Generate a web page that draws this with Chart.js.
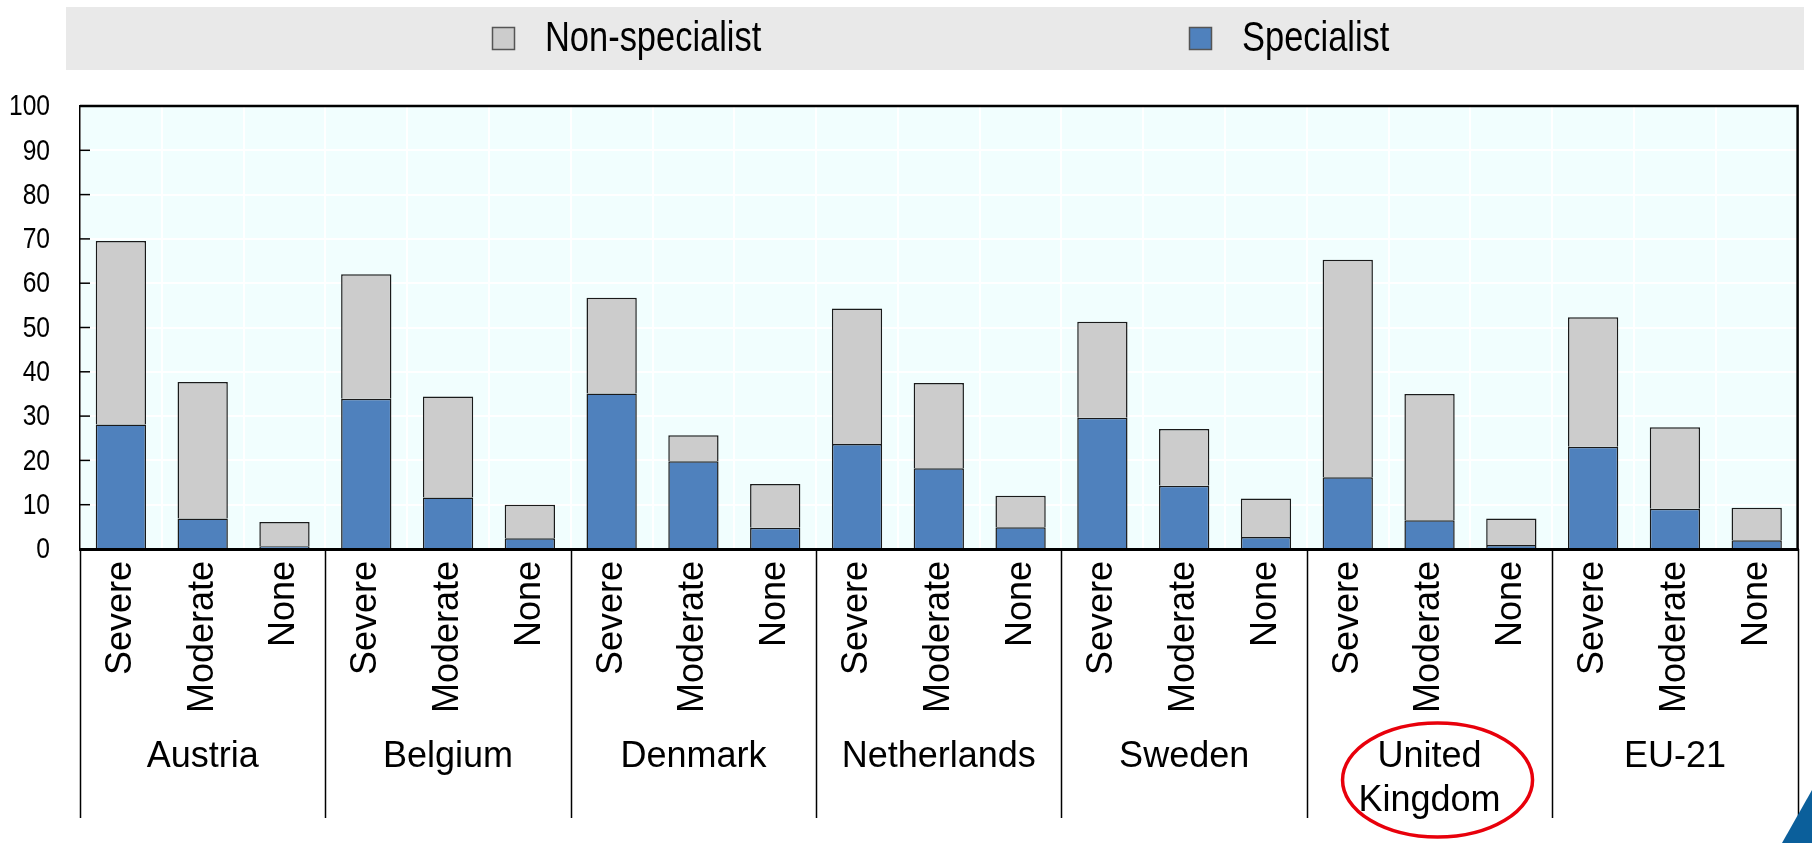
<!DOCTYPE html>
<html>
<head>
<meta charset="utf-8">
<script src="https://cdn.jsdelivr.net/npm/chart.js@4"></script>
<style>
  html, body { margin: 0; padding: 0; background: #fff; }
  canvas { display: block; }
</style>
</head>
<body>
<canvas id="chart" width="1812" height="843"></canvas>
<script>
// Groups and levels on the x axis
const countries = ['Austria', 'Belgium', 'Denmark', 'Netherlands', 'Sweden', ['United', 'Kingdom'], 'EU-21'];
const levels = ['Severe', 'Moderate', 'None'];

// values (%), in order country x level
const specialist    = [28.1, 6.9, 0.6,  33.9, 11.6, 2.4,  35.1, 19.8, 4.8,  23.7, 18.2, 4.9,  29.6, 14.3, 2.7,  16.2, 6.5, 0.9,  23.1, 9.1, 2.0];
const nonSpecialist = [41.4, 30.8, 5.5, 28.1, 22.8, 7.6,  21.6, 5.9, 9.9,   30.6, 19.3, 7.1,  21.7, 12.8, 8.7,  49.1, 28.5, 6.0, 29.2, 18.4, 7.3];
const yTicks = [0, 10, 20, 30, 40, 50, 60, 70, 80, 90, 100];
const highlighted = 5; // United Kingdom

const labels = [];
countries.forEach(() => levels.forEach(l => labels.push(l)));

const FONT = '"Liberation Sans", Arial, sans-serif';
const NARROW = 0.82; // the original uses a condensed face for legend and y labels

// narrow text: squeeze a regular face horizontally
function narrowText(ctx, text, x, y, align) {
  ctx.save();
  ctx.translate(x, y);
  ctx.scale(NARROW, 1);
  ctx.textAlign = align;
  ctx.fillText(text, 0, 0);
  ctx.restore();
}

// background, legend band, borders, group labels etc.
const decor = {
  id: 'decor',
  beforeDraw(chart) {
    const { ctx, chartArea: a } = chart;
    ctx.save();
    ctx.fillStyle = '#fff';
    ctx.fillRect(0, 0, chart.width, chart.height);
    ctx.fillStyle = '#F1FEFE';
    ctx.fillRect(a.left, a.top, a.right - a.left, a.bottom - a.top);

    // legend band
    ctx.fillStyle = '#E9E9E9';
    ctx.fillRect(66, 7, 1738, 63);
    const items = chart.data.datasets.slice().reverse();
    const xs = [492, 1189];
    ctx.font = '42px ' + FONT;
    ctx.textBaseline = 'middle';
    items.forEach((ds, i) => {
      ctx.fillStyle = ds.backgroundColor;
      ctx.fillRect(xs[i], 27, 23, 23);
      ctx.strokeStyle = '#555';
      ctx.lineWidth = 1.5;
      ctx.strokeRect(xs[i] + 0.5, 27.5, 22, 22);
      ctx.fillStyle = '#000';
      narrowText(ctx, ds.label, xs[i] + 53, 39, 'left');
    });
    ctx.restore();
  },
  afterDraw(chart) {
    const { ctx, chartArea: a, scales: { x, y } } = chart;
    ctx.save();
    ctx.strokeStyle = '#000';

    // top and right frame
    ctx.lineWidth = 2.5;
    ctx.beginPath();
    ctx.moveTo(a.left, a.top);
    ctx.lineTo(a.right, a.top);
    ctx.lineTo(a.right, a.bottom);
    ctx.stroke();

    // inner tick marks and labels on y axis
    ctx.lineWidth = 1.5;
    ctx.fillStyle = '#000';
    ctx.font = '30px ' + FONT;
    ctx.textBaseline = 'middle';
    yTicks.forEach(v => {
      const py = y.getPixelForValue(v);
      ctx.beginPath();
      ctx.moveTo(a.left, py);
      ctx.lineTo(a.left + 10, py);
      ctx.stroke();
      narrowText(ctx, String(v), 50, py + 1, 'right');
    });

    // group separators and group names
    const half = (x.getPixelForValue(1) - x.getPixelForValue(0)) / 2;
    ctx.lineWidth = 1.5;
    for (let g = 0; g <= countries.length; g++) {
      const px = g < countries.length ? x.getPixelForValue(g * 3) - half : x.getPixelForValue(g * 3 - 1) + half;
      ctx.beginPath();
      ctx.moveTo(Math.round(px) + 0.5, a.bottom);
      ctx.lineTo(Math.round(px) + 0.5, 818);
      ctx.stroke();
    }
    ctx.font = '36px ' + FONT;
    ctx.textAlign = 'center';
    ctx.textBaseline = 'alphabetic';
    countries.forEach((c, g) => {
      const cx = x.getPixelForValue(g * 3 + 1);
      const lines = Array.isArray(c) ? c : [c];
      lines.forEach((t, k) => ctx.fillText(t, cx, 767 + k * 44));
    });

    // red ellipse round the highlighted group
    const hx = x.getPixelForValue(highlighted * 3 + 1);
    ctx.strokeStyle = '#E8000B';
    ctx.lineWidth = 3.5;
    ctx.beginPath();
    ctx.ellipse(hx + 8, 780, 95, 57, 0, 0, Math.PI * 2);
    ctx.stroke();

    // corner triangle
    ctx.fillStyle = '#0B5F9B';
    ctx.beginPath();
    ctx.moveTo(1782, 843);
    ctx.lineTo(1812, 843);
    ctx.lineTo(1812, 790);
    ctx.closePath();
    ctx.fill();
    ctx.restore();
  }
};

new Chart(document.getElementById('chart'), {
  type: 'bar',
  data: {
    labels: labels,
    datasets: [
      { label: 'Specialist', data: specialist, backgroundColor: '#4F81BD', borderColor: '#1a1a1a', borderWidth: 1.5, barPercentage: 0.615, categoryPercentage: 1 },
      { label: 'Non-specialist', data: nonSpecialist, backgroundColor: '#CCCCCC', borderColor: '#1a1a1a', borderWidth: 1.5, barPercentage: 0.615, categoryPercentage: 1 }
    ]
  },
  options: {
    responsive: false,
    animation: false,
    devicePixelRatio: 1,
    layout: { padding: { top: 106, right: 4, left: 0, bottom: 0 } },
    plugins: { legend: { display: false }, tooltip: { enabled: false } },
    scales: {
      x: {
        stacked: true,
        grid: { color: '#fff', lineWidth: 2, offset: true, drawTicks: false },
        border: { color: '#000', width: 3 },
        ticks: { color: '#000', font: { family: FONT, size: 36 }, minRotation: 90, maxRotation: 90, autoSkip: false, padding: 12 },
        afterFit(s) { s.height = 294; }
      },
      y: {
        stacked: true,
        min: 0, max: 100,
        afterBuildTicks(s) { s.ticks = yTicks.map(v => ({ value: v })); },
        grid: { color: '#fff', lineWidth: 2, drawTicks: false },
        border: { color: '#000', width: 1.5 },
        ticks: { display: false },
        afterFit(s) { s.width = 80; }
      }
    }
  },
  plugins: [decor]
});
</script>
</body>
</html>
